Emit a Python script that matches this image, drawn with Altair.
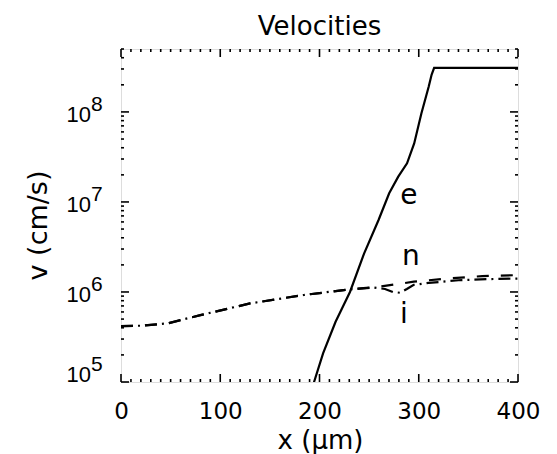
import altair as alt
import pandas as pd

FONT = "DejaVu Sans"
YFONT = "Liberation Sans"

# electron velocity (solid)
e_x = [193.0, 194.5, 203.6, 216.2, 230.7, 245.0, 259.5, 270.2, 279.2, 288.2, 295.4, 302.7, 310.0, 313.0, 315.5, 400.0]
e_v = [8.9e4, 1.0e5, 2.08e5, 4.67e5, 1.0e6, 2.69e6, 6.3e6, 1.25e7, 1.9e7, 2.69e7, 4.47e7, 9.66e7, 1.9e8, 2.6e8, 3.09e8, 3.09e8]

# neutral velocity (dashed)
n_x = [0, 20, 47, 80, 130, 184, 231, 262, 280, 295, 328, 364, 400]
n_v = [4.17e5, 4.22e5, 4.48e5, 5.53e5, 7.46e5, 9.25e5, 1.07e6, 1.15e6, 1.23e6, 1.30e6, 1.41e6, 1.50e6, 1.54e6]

# ion velocity (dash-dot)
i_x = [0, 20, 47, 80, 130, 184, 231, 255, 266, 274, 281, 288, 295, 310, 340, 370, 400]
i_v = [4.17e5, 4.22e5, 4.48e5, 5.53e5, 7.46e5, 9.25e5, 1.07e6, 1.12e6, 1.08e6, 1.0e6, 9.8e5, 1.08e6, 1.2e6, 1.26e6, 1.35e6, 1.39e6, 1.41e6]

# curve labels
lab_text = ["e", "n", "i"]
lab_x = [290, 292, 285]
lab_v = [1.15e7, 2.46e6, 5.5e5]

# axis ticks
x_major = [0, 100, 200, 300, 400]
x_minor = [v for v in range(10, 400, 10) if v % 100 != 0]
y_major = [1e5, 1e6, 1e7, 1e8]
y_minor = [m * 10 ** p for p in (5, 6, 7) for m in range(2, 10)] + [2e8, 3e8, 4e8, 5e8]
y_exp = ["5", "6", "7", "8"]

W, H = 397, 333
xs = alt.Scale(domain=[0, 400], nice=False, zero=False)
ys = alt.Scale(type="log", domain=[1e5, 5e8], nice=False)

df_e = pd.DataFrame({"x": e_x, "v": e_v})
df_ni = pd.concat([
    pd.DataFrame({"x": n_x, "v": n_v, "s": "n"}),
    pd.DataFrame({"x": i_x, "v": i_v, "s": "i"}),
])

base_x = alt.X("x:Q", scale=xs,
               axis=alt.Axis(title="x (μm)", values=x_major, grid=False, ticks=False, tickSize=0,
                             domain=False, labelFontSize=23, labelPadding=18, labelFont=FONT,
                             labelColor="black", titleFont=FONT, titleFontSize=26,
                             titleFontWeight="normal", titleColor="black", titleX=199, titleY=66,
                             titleBaseline="alphabetic", labelFlush=False))
base_y = alt.Y("v:Q", scale=ys,
               axis=alt.Axis(title="v (cm/s)", labels=False, ticks=False, domain=False, grid=False,
                             titleFont=FONT, titleFontSize=27, titleFontWeight="normal",
                             titleColor="black", titleX=-83, titleY=176, titleAngle=270,
                             titleAlign="center", titleBaseline="middle"))

e_line = alt.Chart(df_e).mark_line(color="black", strokeWidth=2.2, clip=True).encode(
    x=base_x, y=base_y)

n_line = alt.Chart(df_ni).transform_filter(alt.datum.s == "n").mark_line(
    color="black", strokeWidth=2.2, strokeDash=[12, 12], clip=True).encode(
    x=alt.X("x:Q", scale=xs), y=alt.Y("v:Q", scale=ys))
i_line = alt.Chart(df_ni).transform_filter(alt.datum.s == "i").mark_line(
    color="black", strokeWidth=2.2, strokeDash=[12, 5, 2, 5], clip=True).encode(
    x=alt.X("x:Q", scale=xs), y=alt.Y("v:Q", scale=ys))

df_lab = pd.DataFrame({"t": lab_text, "x": lab_x, "v": lab_v})
labels = alt.Chart(df_lab).mark_text(font=FONT, fontSize=28, color="black",
                                      baseline="middle", align="center").encode(
    x=alt.X("x:Q", scale=xs), y=alt.Y("v:Q", scale=ys), text="t:N")

# ticks
MAJ, MIN = 8, 3
dfxM = pd.DataFrame({"x": x_major})
dfxm = pd.DataFrame({"x": x_minor})
dfyM = pd.DataFrame({"v": y_major})
dfym = pd.DataFrame({"v": y_minor})

def xticks(df, ln):
    b = alt.Chart(df).mark_rule(color="black", strokeWidth=1.6)
    return [
        b.encode(x=alt.X("x:Q", scale=xs), y=alt.value(H), y2=alt.value(H - ln)),
        b.encode(x=alt.X("x:Q", scale=xs), y=alt.value(0), y2=alt.value(ln)),
    ]

def yticks(df, ln):
    b = alt.Chart(df).mark_rule(color="black", strokeWidth=1.6)
    return [
        b.encode(y=alt.Y("v:Q", scale=ys), x=alt.value(0), x2=alt.value(ln)),
        b.encode(y=alt.Y("v:Q", scale=ys), x=alt.value(W), x2=alt.value(W - ln)),
    ]

tick_layers = xticks(dfxM, MAJ) + xticks(dfxm, MIN) + yticks(dfyM, MAJ) + yticks(dfym, MIN)

df_ylab = pd.DataFrame({"v": y_major, "e": y_exp, "b": ["10"] * 4, "low": [1, 0, 0, 0]})
ten_low = alt.Chart(df_ylab).transform_filter(alt.datum.low == 1).mark_text(
    font=YFONT, fontSize=22, align="right", baseline="alphabetic", dy=0, color="black").encode(
    y=alt.Y("v:Q", scale=ys), x=alt.value(-30), text="b:N")
ten_hi = alt.Chart(df_ylab).transform_filter(alt.datum.low == 0).mark_text(
    font=YFONT, fontSize=22, align="right", baseline="alphabetic", dy=10, color="black").encode(
    y=alt.Y("v:Q", scale=ys), x=alt.value(-30), text="b:N")
exp_low = alt.Chart(df_ylab).transform_filter(alt.datum.low == 1).mark_text(
    font=YFONT, fontSize=21, align="left", baseline="alphabetic", dy=-11, color="black").encode(
    y=alt.Y("v:Q", scale=ys), x=alt.value(-30), text="e:N")
exp_hi = alt.Chart(df_ylab).transform_filter(alt.datum.low == 0).mark_text(
    font=YFONT, fontSize=21, align="left", baseline="alphabetic", dy=-1, color="black").encode(
    y=alt.Y("v:Q", scale=ys), x=alt.value(-30), text="e:N")

title = alt.Chart(pd.DataFrame({"t": ["Velocities"]})).mark_text(
    font=FONT, fontSize=26, color="black", align="center", baseline="alphabetic").encode(
    x=alt.value(W / 2), y=alt.value(-14), text="t:N")

chart = alt.layer(
    e_line, n_line, i_line, labels, *tick_layers, ten_low, ten_hi, exp_low, exp_hi, title
).properties(
    width=W, height=H,
    autosize=alt.AutoSizeParams(type="none"),
    padding={"left": 121, "top": 49, "right": 39, "bottom": 72},
).configure_view(stroke="black", strokeWidth=2.4).configure(background="white")

chart.save("out.html", embed_options={"renderer": "svg", "actions": False})
